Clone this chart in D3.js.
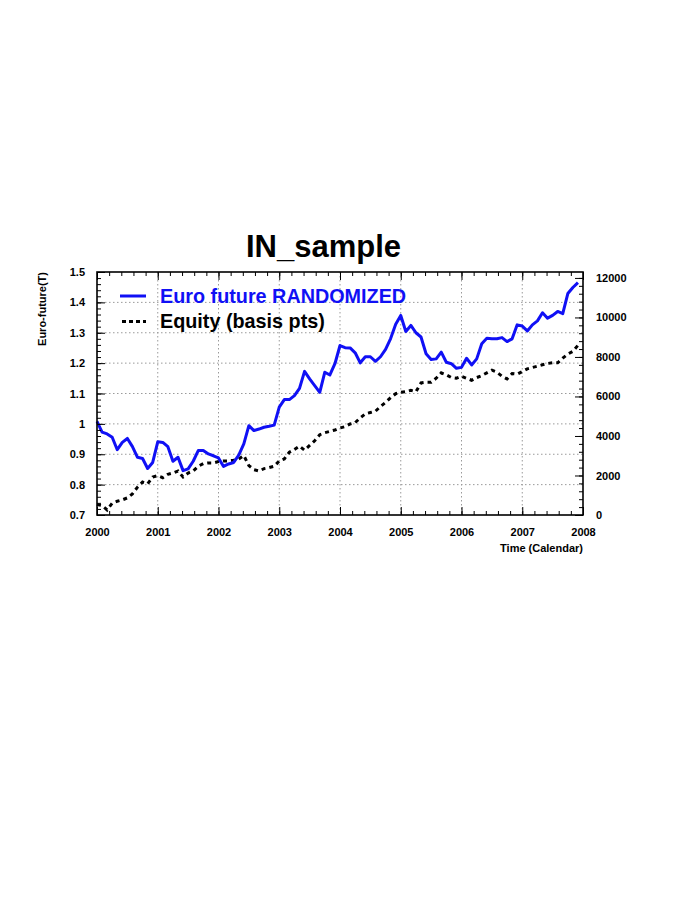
<!DOCTYPE html>
<html>
<head>
<meta charset="utf-8">
<script src="https://cdn.jsdelivr.net/npm/d3@7"></script>
<style>
  html, body { margin: 0; padding: 0; background: #fff; }
  svg { display: block; }
  text { font-family: "Liberation Sans", Arial, Helvetica, sans-serif; font-weight: bold; }
</style>
</head>
<body>
<svg id="chart" width="698" height="903"></svg>
<script>
// ---- data ----
const startYear = 2000;
const euroFuture = [
  1.008, 0.973, 0.967, 0.956, 0.915, 0.939, 0.952, 0.925, 0.890, 0.886, 0.853, 0.873,
  0.941, 0.939, 0.925, 0.877, 0.890, 0.846, 0.852, 0.877, 0.912, 0.912, 0.901, 0.895,
  0.888, 0.860, 0.868, 0.873, 0.897, 0.934, 0.994, 0.978, 0.983, 0.989, 0.992, 0.996,
  1.055, 1.080, 1.080, 1.093, 1.117, 1.173, 1.148, 1.126, 1.104, 1.170, 1.161, 1.198,
  1.258, 1.251, 1.250, 1.234, 1.201, 1.221, 1.221, 1.206, 1.221, 1.245, 1.281, 1.328,
  1.357, 1.304, 1.324, 1.300, 1.286, 1.231, 1.212, 1.214, 1.236, 1.203, 1.198, 1.183,
  1.186, 1.216, 1.194, 1.214, 1.264, 1.282, 1.280, 1.280, 1.284, 1.271, 1.280, 1.326,
  1.322, 1.306, 1.326, 1.339, 1.366, 1.348, 1.357, 1.370, 1.363, 1.429, 1.449, 1.465
];
const equity = [
  527, 476, 255, 595, 697, 765, 867, 1071, 1411, 1667, 1582, 1922,
  1990, 1888, 2058, 2126, 2228, 1922, 2126, 2228, 2466, 2602, 2636, 2636,
  2704, 2738, 2738, 2772, 2840, 3010, 2500, 2296, 2228, 2347, 2398, 2466,
  2738, 2840, 3180, 3316, 3486, 3282, 3520, 3759, 4065, 4167, 4235, 4303,
  4405, 4473, 4609, 4677, 4915, 5119, 5187, 5255, 5493, 5697, 5935, 6139,
  6207, 6241, 6310, 6241, 6684, 6718, 6718, 6922, 7194, 7092, 6956, 6922,
  7024, 6922, 6820, 6956, 7058, 7194, 7330, 7228, 7024, 6888, 7160, 7126,
  7262, 7398, 7466, 7534, 7602, 7670, 7704, 7704, 7942, 8146, 8282, 8588
];
const yearTicks = [2000, 2001, 2002, 2003, 2004, 2005, 2006, 2007, 2008];
const leftTicks = [0.7, 0.8, 0.9, 1.0, 1.1, 1.2, 1.3, 1.4, 1.5];
const rightTicks = [0, 2000, 4000, 6000, 8000, 10000, 12000];
const titleText = "IN_sample";
const leftTitle = "Euro-future(T)";
const bottomTitle = "Time (Calendar)";
const legendLabels = ["Euro future RANDOMIZED", "Equity (basis pts)"];

// ---- layout ----
const svg = d3.select("#chart");
const L = 97, R = 583, T = 272, B = 515;
const blue = "#1010f5";

const times = euroFuture.map((_, i) => startYear + i / 12);

const x = d3.scaleLinear().domain([2000, 2008]).range([L, R]);
const yL = d3.scaleLinear().domain([0.7, 1.5]).range([B, T]);
const yR = d3.scaleLinear().domain([0, 12300]).range([B, T]);

// grid
const grid = svg.append("g").attr("stroke", "#9a9a9a").attr("stroke-width", 1)
  .attr("stroke-dasharray", "1.5,2.5");
yearTicks.slice(1, -1).forEach(v => {
  grid.append("line").attr("x1", x(v)).attr("x2", x(v)).attr("y1", T).attr("y2", B);
});
leftTicks.slice(1, -1).forEach(v => {
  grid.append("line").attr("x1", L).attr("x2", R).attr("y1", yL(v)).attr("y2", yL(v));
});

// lines
svg.append("path")
  .datum(equity.map((v, i) => [times[i], v]))
  .attr("fill", "none").attr("stroke", "#000").attr("stroke-width", 3)
  .attr("stroke-dasharray", "4,4")
  .attr("d", d3.line().x(d => x(d[0])).y(d => yR(d[1])));

svg.append("path")
  .datum(euroFuture.map((v, i) => [times[i], v]))
  .attr("fill", "none").attr("stroke", blue).attr("stroke-width", 3)
  .attr("stroke-linejoin", "round")
  .attr("d", d3.line().x(d => x(d[0])).y(d => yL(d[1])));

// axes
function styleAxis(g) {
  g.select(".domain").remove();
  g.selectAll("line").attr("stroke", "#000").attr("stroke-width", 1);
  g.selectAll("text").attr("font-size", 11).attr("fill", "#000")
    .attr("font-family", "Liberation Sans, Arial, sans-serif").attr("font-weight", "bold");
}
const xMinorVals = [];
for (let k = 0; k <= 40; k++) xMinorVals.push(2000 + k / 5);
const yLMinorVals = [];
for (let k = 0; k <= 40; k++) yLMinorVals.push(0.7 + k * 0.02);
const yRMinorVals = [];
for (let k = 0; k <= 30; k++) yRMinorVals.push(k * 400);

// bottom
svg.append("g").attr("transform", `translate(0,${B})`)
  .call(d3.axisBottom(x).tickValues(xMinorVals).tickSize(-4).tickFormat(""))
  .call(styleAxis);
svg.append("g").attr("transform", `translate(0,${B})`)
  .call(d3.axisBottom(x).tickValues(yearTicks).tickSize(-8).tickPadding(13).tickFormat(d3.format("d")))
  .call(styleAxis);
// top
svg.append("g").attr("transform", `translate(0,${T})`)
  .call(d3.axisTop(x).tickValues(xMinorVals).tickSize(-4).tickFormat(""))
  .call(styleAxis);
svg.append("g").attr("transform", `translate(0,${T})`)
  .call(d3.axisTop(x).tickValues(yearTicks).tickSize(-8).tickFormat(""))
  .call(styleAxis);
// left
svg.append("g").attr("transform", `translate(${L},0)`)
  .call(d3.axisLeft(yL).tickValues(yLMinorVals).tickSize(-4).tickFormat(""))
  .call(styleAxis);
svg.append("g").attr("transform", `translate(${L},0)`)
  .call(d3.axisLeft(yL).tickValues(leftTicks).tickSize(-8).tickPadding(12).tickFormat(d => d3.format("")(+d.toFixed(1))))
  .call(styleAxis);
// right
svg.append("g").attr("transform", `translate(${R},0)`)
  .call(d3.axisRight(yR).tickValues(yRMinorVals.filter(v => v <= 12300)).tickSize(-4).tickFormat(""))
  .call(styleAxis);
svg.append("g").attr("transform", `translate(${R},0)`)
  .call(d3.axisRight(yR).tickValues(rightTicks).tickSize(-8).tickPadding(13).tickFormat(d3.format("d")))
  .call(styleAxis);

// frame
svg.append("rect").attr("x", L).attr("y", T).attr("width", R - L).attr("height", B - T)
  .attr("fill", "none").attr("stroke", "#000").attr("stroke-width", 1.6);

// titles
svg.append("text").attr("x", 323.5).attr("y", 257).attr("text-anchor", "middle")
  .attr("font-size", 31).text(titleText);
svg.append("text").attr("transform", `translate(46,${T}) rotate(-90)`)
  .attr("text-anchor", "end").attr("font-size", 11).text(leftTitle);
svg.append("text").attr("x", R).attr("y", 552).attr("text-anchor", "end")
  .attr("font-size", 11).text(bottomTitle);

// legend
const leg = svg.append("g");
leg.append("line").attr("x1", 120).attr("x2", 146).attr("y1", 296).attr("y2", 296)
  .attr("stroke", blue).attr("stroke-width", 3);
leg.append("text").attr("x", 160).attr("y", 303).attr("font-size", 19.8).attr("fill", blue)
  .text(legendLabels[0]);
leg.append("line").attr("x1", 122).attr("x2", 146).attr("y1", 321.5).attr("y2", 321.5)
  .attr("stroke", "#000").attr("stroke-width", 3).attr("stroke-dasharray", "4,3");
leg.append("text").attr("x", 160).attr("y", 327.5).attr("font-size", 19.8).attr("fill", "#000")
  .text(legendLabels[1]);
</script>
</body>
</html>
